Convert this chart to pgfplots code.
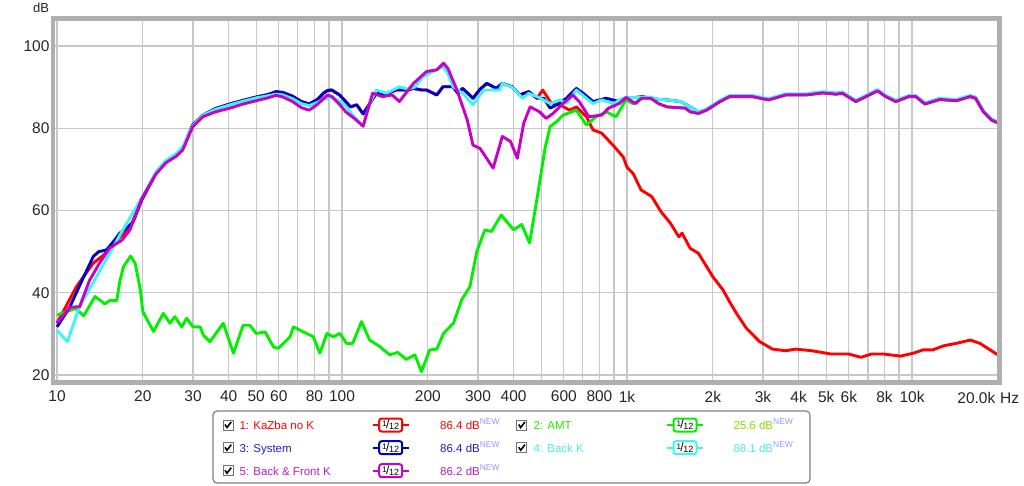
\documentclass[border=0pt]{standalone}
\usepackage{fontspec}
\setmainfont{Liberation Sans}
\usepackage{pgfplots}
\pgfplotsset{compat=1.18}

\definecolor{cRed}{RGB}{255,0,0}
\definecolor{cGreen}{RGB}{0,240,0}
\definecolor{cBlue}{RGB}{0,0,200}
\definecolor{cCyan}{RGB}{60,245,245}
\definecolor{cMag}{RGB}{200,0,200}
\definecolor{gridgray}{RGB}{200,200,200}
\definecolor{framegray}{RGB}{175,175,175}
\definecolor{newcol}{RGB}{150,150,255}
\definecolor{tGreen}{RGB}{40,235,0}
\definecolor{tGreen2}{RGB}{130,220,0}
\definecolor{tCyan}{RGB}{80,230,235}
\definecolor{tBlue}{RGB}{30,30,200}
\definecolor{tMag}{RGB}{190,30,190}

% legend bits (decoration only)
\newcommand{\chk}[2]{%
  \begin{scope}[shift={(#1pt,#2pt)}]
    \draw[black!55, line width=0.8pt, fill=white] (-5pt,-5pt) rectangle (5pt,5pt);
    \draw[black, line width=1.6pt] (-3pt,0.5pt) -- (-1pt,-2.5pt) -- (3.2pt,3pt);
  \end{scope}}
\newcommand{\filt}[3]{%
  \begin{scope}[shift={(#1pt,#2pt)}]
    \draw[#3, line width=1.8pt] (-18pt,0pt) -- (18pt,0pt);
    \draw[#3, line width=2pt, fill=white, rounded corners=2.5pt] (-11.5pt,-6.5pt) rectangle (11.5pt,6.5pt);
    \node[anchor=center, inner sep=0pt, text=black] at (0pt,0pt) {\raisebox{1.8pt}{\fontsize{8}{8}\selectfont 1}\kern-0.6pt{\fontsize{12}{12}\selectfont /}\kern-0.4pt\raisebox{-1.2pt}{\fontsize{9}{9}\selectfont 12}};
  \end{scope}}
\newcommand{\newtag}{\raisebox{5pt}{\fontsize{8.5}{9}\selectfont\color{newcol}NEW}}

\begin{document}
\begin{tikzpicture}
\useasboundingbox (0pt,0pt) rectangle (1024pt,485pt);

\begin{axis}[
  at={(53pt,102.5pt)}, anchor=south west,
  width=946.5pt, height=364pt, scale only axis,
  xmode=log, log basis x=10,
  xmin=9.68, xmax=20270, ymin=18.18, ymax=106.69,
  xtick={10,20,30,40,50,60,70,80,90,100,200,300,400,500,600,700,800,900,1000,2000,3000,4000,5000,6000,7000,8000,9000,10000,20000},
  xticklabels={10,20,30,40,50,60,,80,,100,200,300,400,,600,,800,,1k,2k,3k,4k,5k,6k,,8k,,10k,},
  ytick={20,40,60,80,100},
  yticklabels={20,40,60,80,100},
  grid=major,
  major grid style={color=gridgray, line width=1.2pt},
  major tick length=0pt,
  axis line style={draw=none},
  tick label style={font=\fontsize{15.5}{16}\selectfont, text=black!85},
  /pgf/number format/assume math mode=true,
  xticklabel shift=5pt,
  every axis plot/.append style={line width=2.9pt, line join=round, no markers},
]

% 1: KaZba no K
\addplot[cRed] table {
10 32.6
11.7 41.5
13.4 47.2
14.6 49.2
16.2 52.8
18 55.7
19.8 62.5
22.2 69.0
24.1 71.9
26.2 73.5
27.6 75.1
29.9 80.8
32.5 83.2
36 84.8
40 85.8
45 86.8
50 87.6
55 88.2
58.7 88.9
62 88.7
67 87.8
72 86.5
76.7 85.9
82 87.0
86 88.5
89 89.2
92 89.3
98 88.1
103 86.5
107 85.2
112.6 85.7
118.6 83.5
125 86.0
132 88.5
143 88.4
155 89.3
170 89.3
178 89.7
190 89.3
198 89.3
215 88.1
226 90.1
245 90.1
255 88.5
265 89.7
288 87.3
305 89.5
322 90.9
348 89.7
365 90.9
395 90.1
420 88.1
452 88.9
483 87.3
506 89.3
537 86.5
553 86.0
582 85.7
628 84.4
664 85.2
720 82.8
760 79.6
815 78.8
895 75.8
970 73.0
1000 70.5
1050 69.0
1120 65.0
1220 63.4
1316 59.7
1420 56.9
1520 53.6
1560 54.5
1666 50.8
1780 49.6
1900 46.4
2000 43.9
2170 40.7
2290 37.8
2420 35.0
2620 31.4
2920 28.1
3240 26.3
3600 25.9
3900 26.3
4450 25.9
5200 25.1
6000 25.1
6620 24.3
7200 25.1
7950 25.1
9100 24.6
10100 25.3
10900 26.1
11800 26.1
12900 27.1
14300 27.7
16000 28.5
17300 27.7
20000 24.9
};

% 2: AMT
\addplot[cGreen] table {
10 34.6
10.8 35.4
11.6 36.2
12.4 34.4
13.6 39.1
14.7 37.3
15.3 38.1
16.2 38.1
16.6 42.7
17.1 46.3
18.1 48.9
18.8 47.2
19.6 40.7
20 35.4
21.8 30.6
23.6 35.0
24.9 32.6
25.9 34.2
27.4 31.7
28.5 33.8
30 31.7
31.8 31.7
32.6 29.7
34.4 28.1
38.3 32.6
41.6 25.3
45 32.1
47.5 32.1
50 30.1
53.7 30.5
57.5 26.8
59.8 26.5
62.3 27.7
65.7 29.3
67.5 31.7
73.2 30.5
79.3 29.3
83.6 25.3
88.5 30.1
93.2 29.3
98.3 30.1
103.7 27.7
109 27.7
117 33.0
125 28.5
135 27.0
147 24.9
157 25.5
168 23.8
180 24.9
190 20.8
203 26.1
215 26.3
227 30.1
246 32.6
263 38.3
281 41.5
297 50.0
317 55.3
334 54.9
362 58.9
400 55.3
427 56.6
455 52.1
476 60.2
495 67.4
515 75.0
537 80.4
566 81.6
596 83.2
664 84.4
720 80.8
779 82.8
845 84.0
915 82.8
990 86.9
1050 86.0
1135 87.3
1210 87.3
1290 86.0
1380 85.2
1600 84.9
1666 84.0
1780 83.6
1900 84.4
2120 86.5
2290 87.7
2750 87.7
3140 86.9
3600 88.1
4250 88.1
4860 88.6
5400 88.3
5700 88.5
6350 86.5
6890 87.7
7560 89.1
8090 87.7
8770 86.5
9750 87.7
10300 87.7
11100 85.9
12500 87.0
14300 86.7
16000 87.7
16700 87.3
17800 84.0
19000 82.0
20000 81.3
};

% 3: System
\addplot[cBlue] table {
10 31.7
11.1 36.6
12.2 42.8
13.4 48.8
14.0 50.0
14.9 50.4
15.8 52.5
16.6 54.5
17.6 55.8
18.5 57.2
19.8 62.5
22.2 69.0
24.1 71.9
26.2 73.5
27.6 75.1
29.9 80.8
32.5 83.2
36 84.8
40 85.8
45 86.8
50 87.6
55 88.2
58.7 88.9
62 88.7
67 87.8
72 86.5
76.7 85.9
82 87.0
86 88.5
89 89.2
92 89.3
98 88.1
103 86.5
107 85.2
112.6 85.7
118.6 83.5
125 86.0
132 88.5
143 88.4
155 89.3
170 89.3
178 89.7
190 89.3
198 89.3
215 88.1
226 90.1
245 90.1
255 88.5
265 89.7
288 87.3
305 89.5
322 90.9
348 89.7
365 90.9
395 90.1
420 88.1
452 88.9
483 87.3
510 87.3
537 84.9
566 85.7
613 87.3
664 89.7
702 88.5
760 86.5
845 87.3
939 86.5
990 87.3
1070 87.5
1135 87.7
1210 87.3
1290 87.0
1380 86.9
1540 86.5
1666 85.2
1780 84.0
1900 84.5
2120 86.6
2290 87.8
2750 87.8
3140 87.0
3600 88.2
4250 88.2
4860 88.7
5400 88.4
5700 88.6
6350 86.6
6890 87.8
7560 89.2
8090 87.8
8770 86.6
9750 87.8
10300 87.8
11100 86.0
12500 87.1
14300 86.8
16000 87.8
16700 87.4
17800 84.1
19000 82.1
20000 81.4
};

% 4: Back K
\addplot[cCyan] table {
10 30.9
10.87 28.1
12.0 36.6
16.6 54.0
19.8 63.0
22.2 69.3
24.1 72.2
26.2 73.8
27.6 75.5
29.9 80.6
32.5 83.2
36 84.6
40 85.6
45 86.6
50 87.4
55 87.9
58.7 88.3
62 88.1
67 87.2
72 86.0
76.7 85.5
82 86.3
86 87.0
89 87.3
92 87.8
98 86.5
103 85.4
109 83.2
118.6 80.5
125 86.0
132 89.3
143 88.5
159 90.1
170 89.5
180 90.0
192 92.5
208 93.8
226 95.0
235 93.4
245 90.1
265 88.5
288 85.7
314 89.3
357 89.3
365 90.9
395 90.0
430 87.3
452 88.5
493 87.4
537 86.0
582 86.9
613 86.0
664 89.3
720 87.3
760 86.0
815 86.9
895 86.0
970 87.3
1050 87.5
1210 87.6
1290 87.0
1380 86.9
1540 86.5
1666 85.2
1780 84.0
1900 84.7
2120 86.8
2290 88.0
2750 88.0
3140 87.2
3600 88.4
4250 88.4
4860 88.9
5400 88.6
5700 88.8
6350 86.8
6890 88.0
7560 89.4
8090 88.0
8770 86.8
9750 88.0
10300 88.0
11100 86.2
12500 87.3
14300 87.0
16000 88.0
16700 87.6
17800 84.3
19000 82.3
20000 81.6
};

% 5: Back & Front K
\addplot[cMag] table {
10 32.7
11.1 36.5
12.0 36.6
13.0 43.0
14.1 47.2
15.3 50.9
16.9 52.8
18 55.2
19.8 62.8
22.2 68.8
24.1 71.6
26.2 73.2
27.6 74.7
29.9 80.3
32.5 82.8
36 84.0
40 84.8
45 85.9
50 86.7
55 87.4
58.7 88.0
62 87.6
67 86.5
72 85.0
76.7 84.4
82 85.8
86 87.2
89 88.1
92 87.7
98 85.8
103 84.0
110 82.5
118.6 80.5
128 88.5
139 87.7
150 88.1
159 86.5
178 90.9
198 93.8
215 94.2
227 95.8
235 94.6
253 89.3
275 82.0
288 75.9
305 75.1
339 70.3
365 78.0
390 76.8
412 72.7
434 81.2
457 85.2
493 84.0
520 82.4
550 83.6
596 86.0
645 88.1
679 86.5
735 82.8
815 83.2
862 84.9
939 86.0
990 87.5
1070 86.0
1125 87.3
1210 87.3
1290 86.0
1380 85.2
1600 84.9
1666 84.0
1780 83.6
1900 84.4
2120 86.5
2290 87.7
2750 87.7
3140 86.9
3600 88.1
4250 88.1
4860 88.6
5400 88.3
5700 88.5
6350 86.5
6890 87.7
7560 89.1
8090 87.7
8770 86.5
9750 87.7
10300 87.7
11100 85.9
12500 87.0
14300 86.7
16000 87.7
16700 87.3
17800 84.0
19000 82.0
20000 81.3
};
\end{axis}

% plot frame
\draw[framegray, line width=4.5pt] (53pt,102.5pt) rectangle (999.5pt,466.5pt);

% axis captions
\node[font=\fontsize{13}{14}\selectfont, text=black!85] at (41pt,477pt) {dB};
\node[anchor=base east, inner sep=0pt, font=\fontsize{15.5}{16}\selectfont, text=black!85] at (995.5pt,81.5pt) {20.0k};
\node[anchor=base west, inner sep=0pt, font=\fontsize{15.5}{16}\selectfont, text=black!85] at (1000pt,81.5pt) {Hz};

% legend box
\draw[black!50, line width=1.2pt, rounded corners=4pt] (213pt,2pt) rectangle (810pt,74pt);
\begin{scope}[every node/.style={anchor=base west, inner sep=0pt, font=\fontsize{11.5}{12}\selectfont}]
  \chk{228}{60}
  \node[text=cRed] at (239.3pt,55.7pt) {1: KaZba no K};
  \filt{390.7}{60}{cRed}
  \node[text=cRed] at (440pt,55.7pt) {86.4 dB\newtag};
  \chk{521.7}{60}
  \node[text=tGreen] at (533.3pt,55.7pt) {2: AMT};
  \filt{685}{60}{cGreen}
  \node[text=tGreen2] at (733.3pt,55.7pt) {25.6 dB\newtag};

  \chk{228}{37.3}
  \node[text=tBlue] at (239.3pt,33pt) {3: System};
  \filt{390.7}{37.3}{cBlue}
  \node[text=tBlue] at (440pt,33pt) {86.4 dB\newtag};
  \chk{521.7}{37.3}
  \node[text=tCyan] at (533.3pt,33pt) {4: Back K};
  \filt{685}{37.3}{cCyan}
  \node[text=tCyan] at (733.3pt,33pt) {88.1 dB\newtag};

  \chk{228}{14.3}
  \node[text=tMag] at (239.3pt,10pt) {5: Back \& Front K};
  \filt{390.7}{14.3}{cMag}
  \node[text=tMag] at (440pt,10pt) {86.2 dB\newtag};
\end{scope}
\end{tikzpicture}
\end{document}
